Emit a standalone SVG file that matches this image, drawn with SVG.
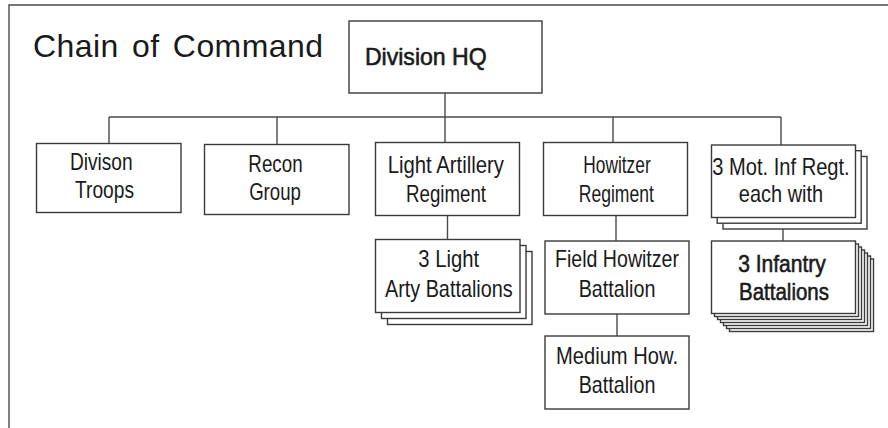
<svg xmlns="http://www.w3.org/2000/svg" width="888" height="428" viewBox="0 0 888 428">
<style>
.box{fill:#fff;stroke:#3a3a3a;stroke-width:1.4}
.ln{fill:none;stroke:#4a4a4a;stroke-width:1.4}
.t{font-family:"Liberation Sans Narrow","Liberation Sans",Arial,sans-serif;font-size:24px;fill:#1a1a1a;text-anchor:middle}
.b{stroke:#1a1a1a;stroke-width:0.6}
.title{font-family:"Liberation Sans",Arial,sans-serif;font-size:32px;fill:#1a1a1a;word-spacing:4px}
</style>
<rect width="888" height="428" fill="#fff"/>
<path class="ln" d="M9,428 V5 H888" stroke-width="1.6"/>
<text class="title" x="33" y="57" textLength="290" lengthAdjust="spacing">Chain of Command</text>
<g id="connectors">
<path class="ln" d="M445,93 V117 M109,117 H781 M109,117 V143.5 M277,117 V144.5 M445,117 V142.5 M613,117 V142.5 M781,117 V145"/>
<path class="ln" d="M447.5,215.5 V239.5 M616,215.5 V241 M617,314 V336 M783,229 V241"/>
</g>
<g id="hq"><rect class="box" x="349" y="21" width="193" height="72"/>
<text class="t b" x="425.8" y="65" font-size="23" textLength="121.7" lengthAdjust="spacingAndGlyphs">Division HQ</text></g>
<g id="troops"><rect class="box" x="36.5" y="143.5" width="144.5" height="69"/>
<text class="t" x="101.3" y="170" textLength="62.7" lengthAdjust="spacingAndGlyphs">Divison</text>
<text class="t" x="104.5" y="197.7" textLength="59" lengthAdjust="spacingAndGlyphs">Troops</text></g>
<g id="recon"><rect class="box" x="204.5" y="144.5" width="144.5" height="70"/>
<text class="t" x="275.5" y="171.5" textLength="54.3" lengthAdjust="spacingAndGlyphs">Recon</text>
<text class="t" x="275" y="199.5" textLength="51.7" lengthAdjust="spacingAndGlyphs">Group</text></g>
<g id="lightart"><rect class="box" x="375.5" y="142.5" width="144" height="73"/>
<text class="t" x="445.8" y="173.3" textLength="116.3" lengthAdjust="spacingAndGlyphs">Light Artillery</text>
<text class="t" x="446" y="201.5" textLength="80" lengthAdjust="spacingAndGlyphs">Regiment</text></g>
<g id="howitzer"><rect class="box" x="543.5" y="142.5" width="144" height="73"/>
<text class="t" x="617" y="173.3" textLength="67.3" lengthAdjust="spacingAndGlyphs">Howitzer</text>
<text class="t" x="616.3" y="201.5" textLength="75" lengthAdjust="spacingAndGlyphs">Regiment</text></g>
<g id="motinf">
<rect class="box" x="723" y="156.5" width="144" height="72.5"/>
<rect class="box" x="717.2" y="150.7" width="144" height="72.5"/>
<rect class="box" x="711.5" y="145" width="144" height="72.5"/>
<text class="t" x="781" y="175" textLength="137.3" lengthAdjust="spacingAndGlyphs">3 Mot. Inf Regt.</text>
<text class="t" x="781" y="202" textLength="84.3" lengthAdjust="spacingAndGlyphs">each with</text></g>
<g id="lightbatt">
<rect class="box" x="387.5" y="251.5" width="144.5" height="73"/>
<rect class="box" x="381.5" y="245.5" width="144.5" height="73"/>
<rect class="box" x="375.5" y="239.5" width="144.5" height="73"/>
<text class="t" x="448.7" y="267.3" textLength="60.7" lengthAdjust="spacingAndGlyphs">3 Light</text>
<text class="t" x="448.8" y="296.7" textLength="127.7" lengthAdjust="spacingAndGlyphs">Arty Battalions</text></g>
<g id="fieldhow"><rect class="box" x="545" y="241" width="144" height="73"/>
<text class="t" x="617" y="267.3" textLength="124" lengthAdjust="spacingAndGlyphs">Field Howitzer</text>
<text class="t" x="617" y="296.7" textLength="76.7" lengthAdjust="spacingAndGlyphs">Battalion</text></g>
<g id="mediumhow"><rect class="box" x="545" y="336" width="144" height="73"/>
<text class="t" x="617" y="364" textLength="122" lengthAdjust="spacingAndGlyphs">Medium How.</text>
<text class="t" x="617" y="392.7" textLength="76.7" lengthAdjust="spacingAndGlyphs">Battalion</text></g>
<g id="infbatt">
<rect class="box" x="729.5" y="259" width="144" height="72.5"/>
<rect class="box" x="726.5" y="256" width="144" height="72.5"/>
<rect class="box" x="723.5" y="253" width="144" height="72.5"/>
<rect class="box" x="720.5" y="250" width="144" height="72.5"/>
<rect class="box" x="717.5" y="247" width="144" height="72.5"/>
<rect class="box" x="714.5" y="244" width="144" height="72.5"/>
<rect class="box" x="711.5" y="241" width="144" height="72.5"/>
<text class="t b" x="782" y="271.7" textLength="87.7" lengthAdjust="spacingAndGlyphs">3 Infantry</text>
<text class="t b" x="784" y="300" textLength="90" lengthAdjust="spacingAndGlyphs">Battalions</text></g>
</svg>
